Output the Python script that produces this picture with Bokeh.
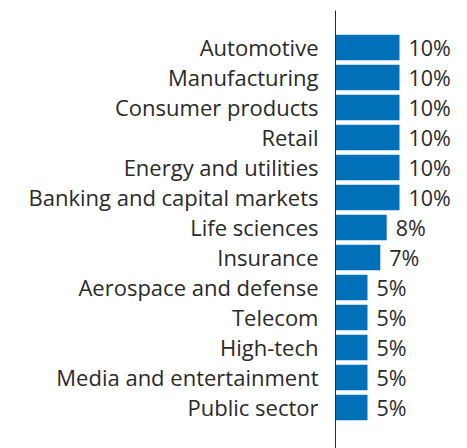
from bokeh.plotting import figure
from bokeh.models import Range1d, FixedTicker, ColumnDataSource
from bokeh.core.properties import value
from bokeh.embed import file_html
from bokeh.resources import INLINE

categories = ["Automotive", "Manufacturing", "Consumer products", "Retail",
              "Energy and utilities", "Banking and capital markets", "Life sciences",
              "Insurance", "Aerospace and defense", "Telecom", "High-tech",
              "Media and entertainment", "Public sector"]
values = [10, 10, 10, 10, 10, 10, 8, 7, 5, 5, 5, 5, 5]
value_labels = [f"{v}%" for v in values]

FONT = "Open Sans"
TEXT_COLOR = "#2a2a2a"
BAR_COLOR = "#0071B9"

ys = list(range(len(categories)))
src = ColumnDataSource(dict(y=ys, v=values, lab=value_labels))

p = figure(width=467, height=448, output_backend="svg", toolbar_location=None,
           x_range=Range1d(0, 20.625), y_range=Range1d(13.367, -1.233),
           x_axis_type=None, min_border_left=335, min_border_right=0,
           min_border_top=10, min_border_bottom=0)
p.outline_line_color = None
p.xgrid.visible = False
p.ygrid.visible = False

p.hbar(y="y", left=0, right="v", height=0.85, source=src,
       fill_color=BAR_COLOR, line_color=None)
p.text(x="v", y="y", text="lab", source=src, x_offset=9,
       text_align="left", text_baseline="middle",
       text_font=value(FONT), text_font_size="21.5px", text_color=TEXT_COLOR)

ax = p.yaxis[0]
ax.ticker = FixedTicker(ticks=ys)
ax.major_label_overrides = {i: c for i, c in zip(ys, categories)}
ax.major_tick_line_color = None
ax.minor_tick_line_color = None
ax.major_label_standoff = 11
ax.major_label_text_font = FONT
ax.major_label_text_font_size = "22px"
ax.major_label_text_color = TEXT_COLOR
ax.axis_line_color = TEXT_COLOR
ax.axis_line_width = 1

open("out.html", "w").write(file_html(p, INLINE))
